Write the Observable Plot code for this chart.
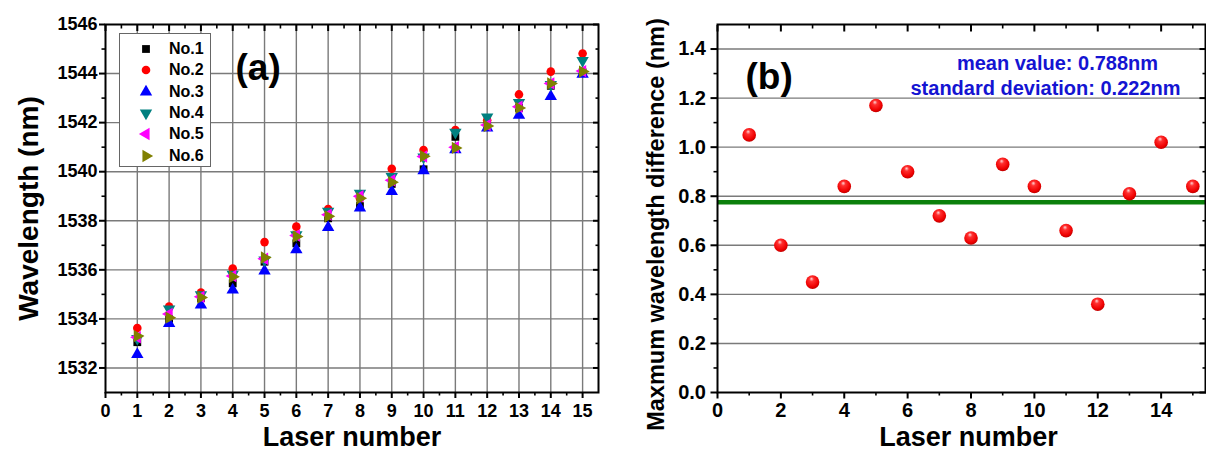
<!DOCTYPE html>
<html><head><meta charset="utf-8">
<script src="https://cdn.jsdelivr.net/npm/d3@7"></script>
<script src="https://cdn.jsdelivr.net/npm/@observablehq/plot@0.6"></script>
<style>
html,body{margin:0;padding:0;background:#fff;}
#wrap{position:relative;width:1206px;height:450px;font-family:"Liberation Sans",Arial,sans-serif;overflow:hidden;}
#pa{position:absolute;left:0;top:0;}
#pb{position:absolute;left:612px;top:0;}
#legend{position:absolute;left:119px;top:33px;width:92px;height:134px;box-sizing:border-box;border:1px solid #666;background:#fff;}
.lrow{position:absolute;left:0;height:20px;width:90px;}
.lrow svg{position:absolute;left:16px;top:0;}
.lrow span{position:absolute;left:49px;top:1px;font-size:16px;font-weight:bold;line-height:18px;color:#000;}
</style></head>
<body><div id="wrap"><div id="pa"></div><div id="pb"></div><div id="legend"></div></div>
<script>
// ---------------- data ----------------
const lasers = [1,2,3,4,5,6,7,8,9,10,11,12,13,14,15];
const seriesNames = ["No.1","No.2","No.3","No.4","No.5","No.6"];
const no1 = [1533.05,1534.00,1534.85,1535.45,1536.33,1537.08,1538.10,1538.60,1539.50,1540.10,1541.42,1541.85,1542.60,1543.50,1544.05];
const no2 = [1533.63,1534.50,1535.07,1536.05,1537.13,1537.76,1538.48,1538.92,1540.12,1540.88,1541.70,1542.10,1543.15,1544.08,1544.82];
const no3 = [1532.55,1533.82,1534.57,1535.18,1535.96,1536.82,1537.73,1538.52,1539.20,1540.04,1540.90,1541.78,1542.30,1543.07,1543.98];
const no4 = [1533.20,1534.40,1534.98,1535.82,1536.40,1537.43,1538.38,1539.12,1539.80,1540.60,1541.60,1542.23,1542.82,1543.55,1544.53];
const no5 = [1533.25,1534.20,1534.90,1535.75,1536.45,1537.40,1538.25,1539.00,1539.65,1540.62,1541.00,1541.90,1542.65,1543.60,1544.10];
const no6 = [1533.30,1534.05,1534.87,1535.72,1536.50,1537.36,1538.18,1538.92,1539.57,1540.63,1540.97,1541.86,1542.60,1543.60,1544.08];
const maxDiff = [1.05,0.60,0.45,0.84,1.17,0.90,0.72,0.63,0.93,0.84,0.66,0.36,0.81,1.02,0.84];
const meanLine = 0.775;
const meanText = "mean value: 0.788nm";
const stdText = "standard deviation: 0.222nm";
const panelA = "(a)", panelB = "(b)";
const xTitle = "Laser number";
const yTitleA = "Wavelength (nm)";
const yTitleB = "Maxmum wavelength difference (nm)";
// ticks
const xTicksA = [0,1,2,3,4,5,6,7,8,9,10,11,12,13,14,15];
const xGridA = [1,2,3,4,5,6,7,8,9,10,11,12,13,14,15];
const xMinorA = [0.5,1.5,2.5,3.5,4.5,5.5,6.5,7.5,8.5,9.5,10.5,11.5,12.5,13.5,14.5];
const yTicksA = [1532,1534,1536,1538,1540,1542,1544,1546];
const yGridA = [1532,1534,1536,1538,1540,1542,1544];
const yMinorA = [1533,1535,1537,1539,1541,1543,1545];
const xTicksB = [0,2,4,6,8,10,12,14];
const xMinorB = [1,3,5,7,9,11,13,15];
const yTicksB = [0,0.2,0.4,0.6,0.8,1.0,1.2,1.4];
const yGridB = [0.2,0.4,0.6,0.8,1.0,1.2,1.4];
const yMinorB = [0.1,0.3,0.5,0.7,0.9,1.1,1.3];

// ---------------- styles ----------------
const seriesValues = [no1,no2,no3,no4,no5,no6];
const colors = ["#000000","#ff0000","#0000ff","#008080","#ff00ff","#808000"];
const s3 = Math.sqrt(3);
const triDown = {draw(c, size){ const y = -Math.sqrt(size/(s3*3)); c.moveTo(0,-y*2); c.lineTo(-s3*y,y); c.lineTo(s3*y,y); c.closePath(); }};
const triLeft = {draw(c, size){ const y = -Math.sqrt(size/(s3*3)); c.moveTo(y*2,0); c.lineTo(-y,-s3*y); c.lineTo(-y,s3*y); c.closePath(); }};
const triRight = {draw(c, size){ const y = -Math.sqrt(size/(s3*3)); c.moveTo(-y*2,0); c.lineTo(y,-s3*y); c.lineTo(y,s3*y); c.closePath(); }};
const symbols = [d3.symbolSquare, d3.symbolCircle, d3.symbolTriangle, triDown, triLeft, triRight];
const radii = [4.4, 4.3, 4.6, 4.6, 4.6, 4.6];
const gridStyle = {stroke:"#7a7a7a", strokeOpacity:1, strokeWidth:1.4};
const font = "Liberation Sans, Arial, sans-serif";

const rowsA = [];
seriesNames.forEach((name, s) => lasers.forEach((l, i) => rowsA.push({laser:l, series:name, value:seriesValues[s][i]})));
const rowsB = lasers.map((l, i) => ({laser:l, diff:maxDiff[i]}));

// ---------------- panel (a) ----------------
const plotA = Plot.plot({
  width: 612, height: 450,
  marginLeft: 105, marginRight: 14, marginTop: 24, marginBottom: 58,
  style: {fontFamily: font, overflow: "visible", background: "transparent"},
  x: {domain: [0, 15.5]},
  y: {domain: [1531, 1546]},
  marks: [
    Plot.gridX(xGridA, gridStyle),
    Plot.gridY(yGridA, gridStyle),
    Plot.axisX({ticks: xTicksA, tickSize: 6, tickPadding: 6, strokeWidth: 2, fontSize: 18, fontWeight: "bold", label: null}),
    Plot.axisX({ticks: xMinorA, tickSize: 3.5, strokeWidth: 1.6, fill: "none", label: null}),
    Plot.axisX({anchor: "top", ticks: xTicksA, tickSize: -6, strokeWidth: 2, fill: "none", label: null}),
    Plot.axisX({anchor: "top", ticks: xMinorA, tickSize: -3.5, strokeWidth: 1.6, fill: "none", label: null}),
    Plot.axisY({ticks: yTicksA, tickSize: 6, tickPadding: 2, strokeWidth: 2, fontSize: 18, fontWeight: "bold", tickFormat: d => String(d), label: null}),
    Plot.axisY({ticks: yMinorA, tickSize: 3.5, strokeWidth: 1.6, fill: "none", label: null}),
    Plot.axisY({anchor: "right", ticks: yTicksA, tickSize: -6, strokeWidth: 2, fill: "none", label: null}),
    Plot.axisY({anchor: "right", ticks: yMinorA, tickSize: -3.5, strokeWidth: 1.6, fill: "none", label: null}),
    ...seriesNames.map((name, s) => Plot.dot(rowsA.filter(d => d.series === name), {
      x: "laser", y: "value", symbol: symbols[s], fill: colors[s], r: radii[s]
    })),
    Plot.frame({stroke: "#000", strokeWidth: 2}),
    Plot.text([panelA], {text: d => d, frameAnchor: "top-left", dx: 130, dy: 55, textAnchor: "start", lineAnchor: "bottom", fontSize: 37, fontWeight: "bold", fill: "#000"}),
    Plot.text([xTitle], {text: d => d, frameAnchor: "bottom", dy: 53, textAnchor: "middle", lineAnchor: "bottom", fontSize: 27, fontWeight: "bold", fill: "#000"}),
    Plot.text([yTitleA], {text: d => d, frameAnchor: "left", dx: -68, textAnchor: "middle", lineAnchor: "bottom", rotate: -90, fontSize: 28, fontWeight: "bold", fill: "#000"})
  ]
});
document.getElementById("pa").appendChild(plotA);

// ---------------- panel (b) ----------------
const plotB = Plot.plot({
  width: 594, height: 450,
  marginLeft: 105, marginRight: 1, marginTop: 24, marginBottom: 58,
  style: {fontFamily: font, overflow: "visible", background: "transparent"},
  x: {domain: [0, 15.4]},
  y: {domain: [0, 1.5]},
  marks: [
    Plot.gridY(yGridB, gridStyle),
    Plot.axisX({ticks: xTicksB, tickSize: 6.5, tickPadding: 4, strokeWidth: 2, fontSize: 20, fontWeight: "bold", label: null}),
    Plot.axisX({ticks: xMinorB, tickSize: 3.5, strokeWidth: 1.6, fill: "none", label: null}),
    Plot.axisX({anchor: "top", ticks: xTicksB, tickSize: -6.5, strokeWidth: 2, fill: "none", label: null}),
    Plot.axisX({anchor: "top", ticks: xMinorB, tickSize: -3.5, strokeWidth: 1.6, fill: "none", label: null}),
    Plot.axisY({ticks: yTicksB, tickSize: 6.5, tickPadding: 5, strokeWidth: 2, fontSize: 20, fontWeight: "bold", tickFormat: d3.format(".1f"), label: null}),
    Plot.axisY({ticks: yMinorB, tickSize: 3.5, strokeWidth: 1.6, fill: "none", label: null}),
    Plot.axisY({anchor: "right", ticks: yTicksB, tickSize: -6.5, strokeWidth: 2, fill: "none", label: null}),
    Plot.axisY({anchor: "right", ticks: yMinorB, tickSize: -3.5, strokeWidth: 1.6, fill: "none", label: null}),
    Plot.ruleY([meanLine], {stroke: "#0b800b", strokeWidth: 4.5}),
    Plot.dot(rowsB, {x: "laser", y: "diff", r: 6.8, fill: "url(#sphere)"}),
    Plot.frame({stroke: "#000", strokeWidth: 2}),
    Plot.text([panelB], {text: d => d, frameAnchor: "top-left", dx: 28, dy: 64, textAnchor: "start", lineAnchor: "bottom", fontSize: 37, fontWeight: "bold", fill: "#000"}),
    Plot.text([meanText], {text: d => d, frameAnchor: "top", dx: 96, dy: 45, textAnchor: "middle", lineAnchor: "bottom", fontSize: 20, fontWeight: "bold", fill: "#1414d2"}),
    Plot.text([stdText], {text: d => d, frameAnchor: "top", dx: 84, dy: 70, textAnchor: "middle", lineAnchor: "bottom", fontSize: 20, fontWeight: "bold", fill: "#1414d2"}),
    Plot.text([xTitle], {text: d => d, frameAnchor: "bottom", dx: 7, dy: 53, textAnchor: "middle", lineAnchor: "bottom", fontSize: 27, fontWeight: "bold", fill: "#000"}),
    Plot.text([yTitleB], {text: d => d, frameAnchor: "left", dx: -54, dy: 16, textAnchor: "middle", lineAnchor: "bottom", rotate: -90, fontSize: 23.5, fontWeight: "bold", fill: "#000"})
  ]
});
const defs = d3.select(plotB).insert("defs", ":first-child");
const grad = defs.append("radialGradient").attr("id", "sphere")
  .attr("cx", "45%").attr("cy", "40%").attr("r", "60%").attr("fx", "42%").attr("fy", "25%");
grad.append("stop").attr("offset", "0%").attr("stop-color", "#ffd6d6");
grad.append("stop").attr("offset", "28%").attr("stop-color", "#ff3030");
grad.append("stop").attr("offset", "80%").attr("stop-color", "#ee0000");
grad.append("stop").attr("offset", "100%").attr("stop-color", "#c00000");
document.getElementById("pb").appendChild(plotB);

// ---------------- legend (a) ----------------
const legend = d3.select("#legend");
seriesNames.forEach((name, s) => {
  const row = legend.append("div").attr("class", "lrow").style("top", (5 + s * 21.3) + "px");
  const svg = row.append("svg").attr("width", 20).attr("height", 20);
  svg.append("path").attr("transform", "translate(10,10)")
    .attr("d", d3.symbol(symbols[s], Math.PI * radii[s] * radii[s])())
    .attr("fill", colors[s]);
  row.append("span").text(name);
});
</script>
</body></html>
